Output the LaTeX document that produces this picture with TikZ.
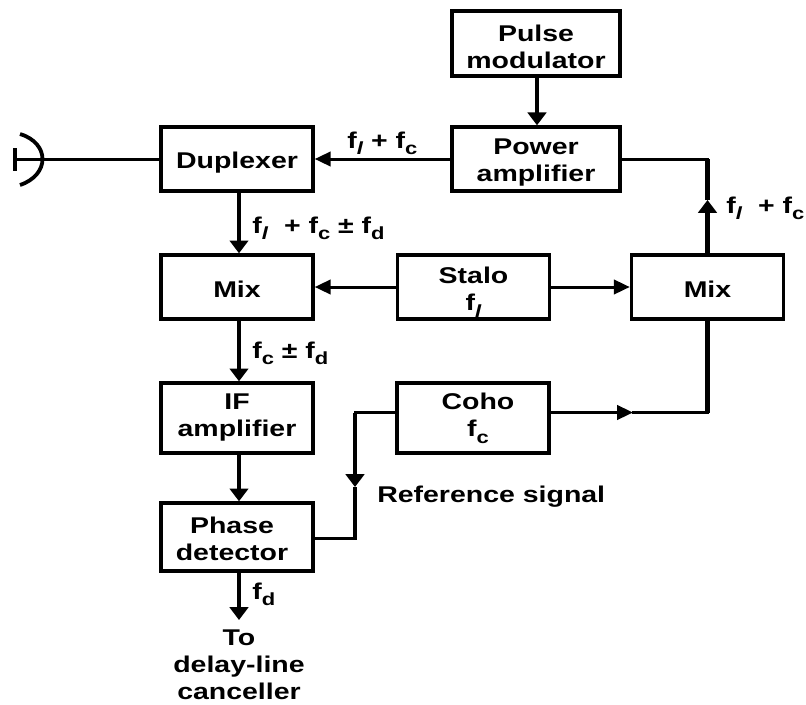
\documentclass[tikz,border=0pt]{standalone}
\usepackage{fontspec}
\setmainfont{Liberation Sans}[FakeStretch=1.25]
\usetikzlibrary{arrows.meta, positioning, calc}
\newcommand{\fsub}[1]{f\raisebox{-0.3em}{\fontsize{12.5}{12.5}\selectfont #1}}
\newcommand{\fl}{\fsub{\textit{l}}}
\newcommand{\fc}{\fsub{c}}
\newcommand{\fd}{\fsub{d}}
\newcommand{\drop}[1]{\rule{0pt}{#1}}
\tikzset{
  every picture/.style={x=0.025cm, y=-0.025cm},
  box/.style={draw=black, line width=0.85mm, align=center, inner sep=0pt, minimum width=3.8cm},
  sig/.style={font=\fontsize{16.2}{19.2}\selectfont\bfseries},
  note/.style={sig, anchor=base west, inner sep=0pt},
  vline/.style={line width=1.2mm},
  hline/.style={line width=0.75mm},
  varrow/.style={vline, -{Triangle[length=3.2mm, width=4.6mm]}},
  harrow/.style={hline, -{Triangle[length=4mm, width=3.6mm]}},
}

\begin{document}
\begin{tikzpicture}[every node/.append style={sig}]
  \useasboundingbox (0,0) rectangle (806,704);
  % boxes
  \foreach \n/\x/\y/\h/\t in {dup/237/159/64/{\drop{16.6pt}Duplexer},
                              mixl/237/287/64/{\drop{14.6pt}Mix},
                              stalo/473.5/287/64/{\drop{18.9pt}Stalo\\ \fl},
                              mixr/707.5/287/64/{\drop{14.6pt}Mix},
                              ifamp/237/418/70/{IF\\ amplifier},
                              coho/473/418/70/{\hspace*{0.25cm}Coho\\ \hspace*{0.25cm}\fc},
                              phase/237/537/68/{\drop{14.6pt}Phase\hspace*{0.25cm}\\ detector\hspace*{0.25cm}}} {
    \node[box, minimum height=\h*0.025cm] (\n) at (\x,\y) {\t};
  }
  \node[box, minimum width=4.2cm, minimum height=1.62cm] (pulse) at (536,43.5) {\drop{16pt}Pulse\\ modulator};
  \node[box, minimum width=4.2cm, minimum height=1.6cm] (power) at (536,159) {\drop{16pt}Power\\ amplifier};
  % helper points
  \coordinate (trunk) at (239,0);
  \coordinate (upbend) at (707.5,159);
  \coordinate (uptip) at (707.5,200);
  \coordinate (downbend) at (707.5,412.5);
  \coordinate (cohotip) at (633,412.5);
  \coordinate (refa) at (355,412.5);
  \coordinate (reftip) at (355,487);
  \coordinate (refb) at (355,538);
  \coordinate (outtip) at (239,620);
  % left column
  \draw[varrow] (pulse.south -| 537,0) -- (power.north -| 537,0);
  \draw[harrow] (power) -- (dup);
  \draw[varrow] (dup.south -| trunk) -- (mixl.north -| trunk);
  \draw[varrow] (mixl.south -| trunk) -- (ifamp.north -| trunk);
  \draw[varrow] (ifamp.south -| trunk) -- (phase.north -| trunk);
  \draw[varrow] (phase.south -| trunk) -- (outtip);
  % stalo
  \draw[harrow] (stalo) -- (mixl);
  \draw[harrow] (stalo) -- (mixr);
  % up to the power amplifier
  \draw[varrow] (mixr.north) -- (uptip);
  \draw[vline] (uptip) -- (upbend);
  \draw[hline, line cap=rect] (upbend) -- (power.east |- upbend);
  % coho
  \draw[vline] (mixr.south) -- (downbend);
  \draw[hline, line cap=rect] (downbend) -- (cohotip);
  \draw[harrow] (coho.east |- cohotip) -- (cohotip);
  \draw[hline, line cap=rect] (coho.west |- refa) -- (refa);
  \draw[varrow] (refa) -- (reftip);
  \draw[vline] (reftip) -- (refb);
  \draw[hline, line cap=rect] (refb) -- (phase.east |- refb);
  % antenna
  \coordinate (anttip) at (13,159);
  \draw[hline] (dup.west) -- (anttip);
  \draw[line width=1.1mm] (15,148) -- (15,171);
  \draw[line width=0.95mm] (20,134) .. controls (50,143) and (50,175) .. (20,185);
  % labels
  \node[note] (lab1) at (347,148) {\fl{} + \fc};
  \node[note] (lab2) at (252,233) {\fl{}\ \ + \fc{} ± \fd};
  \node[note] (lab3) at (252,358) {\fc{} ± \fd};
  \node[note] (lab4) at (726,213) {\fl{}\ \ + \fc};
  \node[note] (lab5) at (252,599) {\fd};
  \node[note] (lab6) at (377,502) {Reference signal};
  \node[sig, align=center] (lab7) at (239,665) {To\\ delay-line\\ canceller};
\end{tikzpicture}
\end{document}
